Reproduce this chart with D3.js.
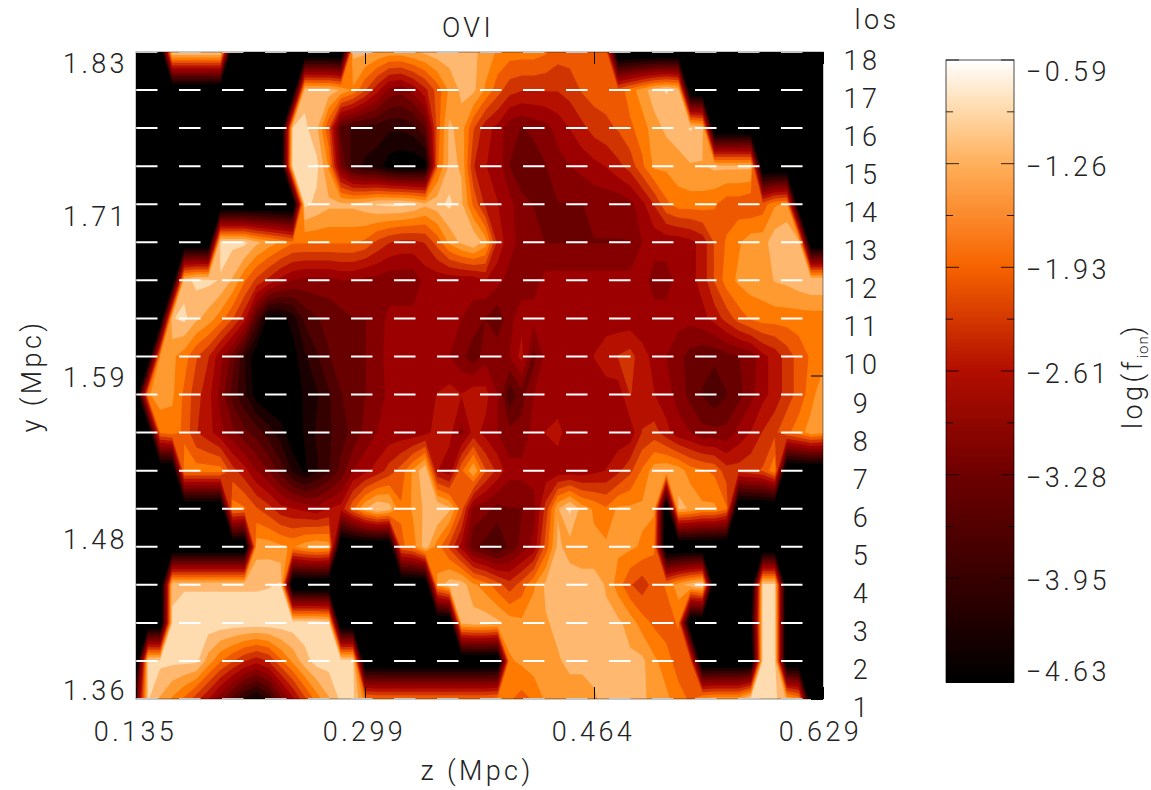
<!DOCTYPE html>
<html>
<head>
<meta charset="utf-8">
<script src="https://cdn.jsdelivr.net/npm/d3@7"></script>
<style>
  html, body { margin: 0; background: #fff; }
  text { font-family: "Roboto", "Liberation Sans", sans-serif; font-weight: 300; fill: #222; font-size: 27px; letter-spacing: 3.4px; }
  .tick text { font-family: "Roboto", "Liberation Sans", sans-serif; font-size: 27px; }
</style>
</head>
<body>
<div id="chart"></div>
<script>
// log(f_ion), one list per line of sight, z runs left to right
const los18 = [-5,-5,-5,-0.85,-0.85,-0.85,-0.85,-0.85,-5,-5,-5,-5,-5,-5,-5,-5,-5,-5,-1.1,-1.1,-1.2,-1.3,-1.3,-1.2,-1.1,-1.0,-1.0,-1.0,-1.1,-1.3,-1.5,-1.6,-1.6,-1.6,-1.7,-1.9,-1.9,-1.9,-1.8,-1.8,-5,-5,-5,-5,-5,-5,-5,-5,-5,-5,-5,-5,-5,-5,-5,-5,-5,-5];
const los17 = [-5,-5,-5,-5,-5,-5,-5,-5,-5,-5,-5,-5,-5,-5,-1.0,-1.0,-1.0,-1.2,-1.5,-2.0,-2.5,-3.0,-3.1,-2.8,-2.4,-1.9,-1.4,-1.1,-1.1,-1.5,-1.9,-2.2,-2.3,-2.3,-2.3,-2.3,-2.2,-2.0,-1.9,-1.9,-1.9,-1.6,-1.3,-1.0,-0.85,-1.0,-5,-5,-5,-5,-5,-5,-5,-5,-5,-5,-5,-5];
const los16 = [-5,-5,-5,-5,-5,-5,-5,-5,-5,-5,-5,-5,-5,-0.85,-0.8,-1.1,-2.0,-3.6,-3.8,-3.9,-3.9,-4.0,-4.0,-3.9,-3.5,-1.9,-1.1,-1.3,-2.0,-2.5,-2.7,-3.1,-3.2,-3.1,-3.0,-2.8,-2.6,-2.4,-2.2,-2.1,-2.0,-1.8,-1.6,-1.3,-1.1,-1.0,-0.85,-1.0,-5,-5,-5,-5,-5,-5,-5,-5,-5,-5];
const los15 = [-5,-5,-5,-5,-5,-5,-5,-5,-5,-5,-5,-5,-4.9,-0.75,-0.75,-0.8,-1.5,-3.2,-3.9,-4.1,-4.2,-4.5,-4.6,-4.6,-4.5,-1.8,-1.1,-1.2,-2.3,-2.6,-2.7,-3.2,-3.4,-3.4,-3.2,-3.0,-2.9,-2.8,-2.7,-2.6,-2.4,-2.2,-1.8,-1.4,-1.4,-1.3,-1.2,-1.2,-1.1,-1.1,-1.1,-1.1,-5,-5,-5,-5,-5,-5];
const los14 = [-5,-5,-5,-5,-5,-5,-5,-5,-5,-5,-5,-5,-5,-5,-0.8,-0.95,-1.1,-1.1,-1.1,-1.0,-0.85,-0.8,-0.8,-0.9,-1.1,-1.0,-0.8,-1.1,-1.8,-2.4,-2.6,-2.8,-3.1,-3.2,-3.2,-3.2,-3.2,-3.2,-3.1,-3.1,-3.1,-3.0,-2.7,-2.3,-1.8,-1.6,-1.6,-1.6,-1.7,-1.9,-1.9,-2.0,-1.9,-1.5,-1.4,-5,-5,-5];
const los13 = [-5,-5,-5,-5,-5,-5,-5,-0.8,-0.8,-0.8,-1.1,-1.3,-1.5,-1.7,-1.7,-1.7,-1.7,-1.7,-1.7,-1.8,-2.1,-2.3,-2.4,-2.4,-2.3,-1.9,-1.4,-1.1,-0.9,-1.3,-2.4,-2.8,-3.0,-3.1,-3.2,-3.2,-3.2,-3.2,-3.2,-3.2,-3.2,-3.2,-2.9,-2.8,-2.8,-2.8,-2.7,-2.5,-2.0,-1.7,-1.5,-1.3,-1.3,-1.0,-0.9,-1.0,-5,-5];
const los12 = [-5,-5,-5,-5,-1.0,-0.8,-0.8,-0.9,-1.2,-1.7,-2.1,-2.4,-2.7,-2.9,-3.0,-3.0,-3.0,-2.9,-2.9,-3.0,-3.0,-3.1,-3.1,-3.1,-2.8,-2.8,-2.8,-2.8,-2.8,-2.6,-2.8,-3.0,-3.1,-3.0,-2.8,-2.8,-2.8,-2.8,-2.8,-2.8,-2.8,-2.8,-2.8,-3.0,-3.0,-2.8,-2.7,-2.5,-2.0,-1.6,-1.4,-1.3,-1.3,-1.15,-1.1,-1.0,-0.9,-0.9];
const los11 = [-5,-5,-5,-0.9,-0.8,-1.1,-1.3,-1.6,-2.0,-2.5,-3.6,-4.5,-4.5,-4.2,-3.7,-3.5,-3.4,-3.3,-3.2,-3.2,-3.1,-2.8,-2.8,-2.8,-2.8,-2.8,-2.8,-2.9,-3.0,-3.2,-3.4,-3.0,-2.7,-2.8,-2.8,-2.8,-2.8,-2.8,-2.8,-2.8,-2.8,-2.8,-2.8,-2.8,-2.8,-2.8,-2.8,-2.7,-2.5,-2.2,-1.9,-1.7,-1.6,-1.6,-1.6,-1.6,-1.6,-1.6];
const los10 = [-5,-5,-1.4,-1.4,-1.6,-2.0,-2.3,-2.8,-3.3,-4.0,-4.6,-4.7,-4.6,-4.5,-4.1,-3.8,-3.5,-3.3,-3.3,-3.2,-3.0,-2.8,-2.8,-2.8,-2.8,-2.8,-2.9,-3.1,-3.4,-3.0,-3.0,-2.9,-2.5,-3.3,-2.8,-2.8,-2.8,-2.8,-2.6,-2.4,-2.3,-2.2,-2.5,-2.7,-2.9,-3.1,-3.3,-3.4,-3.4,-3.3,-3.2,-3.1,-2.7,-2.5,-2.2,-1.9,-1.7,-1.6];
const los9 = [-5,-1.5,-1.3,-1.4,-1.8,-2.2,-2.5,-3.0,-3.6,-4.0,-4.5,-4.7,-4.7,-4.5,-4.3,-4.1,-3.8,-3.5,-3.3,-3.2,-3.1,-2.8,-2.8,-2.8,-2.7,-2.6,-2.5,-2.6,-2.4,-2.5,-2.9,-3.7,-3.3,-2.9,-2.8,-2.8,-2.8,-2.8,-2.8,-2.8,-2.8,-2.3,-2.5,-2.6,-2.8,-3.0,-3.3,-3.5,-3.7,-3.5,-3.3,-3.0,-2.7,-2.5,-2.2,-1.9,-1.6,-1.2];
const los8 = [-5,-5,-1.7,-1.6,-1.8,-2.3,-2.5,-2.8,-3.1,-3.4,-3.6,-3.9,-4.2,-4.6,-4.3,-4.0,-3.8,-3.6,-3.4,-3.1,-2.9,-2.8,-2.8,-2.8,-2.7,-2.5,-2.5,-3.0,-2.5,-2.7,-2.9,-3.1,-3.1,-2.8,-2.6,-2.5,-2.8,-2.8,-2.8,-2.8,-2.8,-2.8,-2.3,-2.2,-2.5,-2.8,-2.9,-3.1,-3.1,-3.1,-2.8,-2.6,-2.3,-2.1,-1.8,-1.6,-1.3,-1.4];
const los7 = [-5,-5,-5,-5,-1.6,-1.6,-1.6,-1.6,-2.2,-2.5,-2.9,-3.2,-3.6,-4.1,-4.4,-4.1,-3.8,-3.4,-2.9,-2.7,-2.5,-2.2,-1.9,-1.4,-0.9,-2.6,-2.8,-1.8,-1.2,-2.0,-2.4,-2.8,-2.8,-2.8,-2.8,-2.8,-2.8,-2.8,-2.7,-2.6,-2.4,-2.1,-1.7,-1.3,-1.2,-1.3,-1.6,-1.7,-1.8,-2.2,-2.2,-2.1,-2.0,-1.5,-5,-5,-5,-5];
const los6 = [-5,-5,-5,-5,-5,-5,-5,-5,-1.6,-1.7,-2.0,-2.2,-2.5,-2.6,-2.7,-2.8,-2.6,-2.5,-1.8,-1.2,-0.85,-1.0,-1.7,-1.4,-1.1,-0.85,-1.1,-1.9,-3.0,-3.1,-3.3,-3.2,-3.2,-3.0,-2.2,-1.2,-0.8,-1.3,-1.5,-1.7,-1.4,-1.4,-1.4,-1.4,-5,-1.1,-1.2,-1.4,-1.4,-1.7,-5,-5,-5,-5,-5,-5,-5,-5];
const los5 = [-5,-5,-5,-5,-5,-5,-5,-5,-5,-5,-1.3,-1.3,-1.4,-1.5,-1.3,-1.2,-1.3,-5,-5,-5,-5,-5,-1.8,-1.6,-1.0,-1.6,-2.1,-2.7,-3.4,-3.6,-3.8,-3.4,-3.1,-2.8,-1.9,-1.1,-1.3,-1.4,-1.4,-1.4,-1.4,-1.4,-1.5,-1.7,-5,-5,-5,-5,-5,-5,-5,-5,-5,-5,-5,-5,-5,-5];
const los4 = [-5,-5,-5,-0.92,-0.92,-0.92,-0.92,-0.92,-0.92,-0.92,-0.92,-0.9,-0.85,-5,-5,-5,-5,-5,-5,-5,-5,-5,-5,-5,-5,-1.4,-1.0,-1.0,-1.4,-1.6,-1.9,-2.2,-1.9,-1.5,-1.1,-1.0,-1.0,-1.0,-1.0,-1.2,-1.6,-2.0,-2.2,-1.9,-1.7,-1.3,-1.0,-0.8,-5,-5,-5,-5,-0.8,-0.8,-5,-5,-5,-5];
const los3 = [-5,-5,-5,-0.85,-0.7,-0.7,-0.7,-0.7,-0.7,-0.7,-0.7,-0.7,-0.7,-0.7,-0.7,-0.7,-0.8,-5,-5,-5,-5,-5,-5,-5,-5,-5,-5,-1.1,-1.0,-1.0,-1.1,-1.3,-1.4,-1.3,-1.2,-1.1,-1.1,-1.1,-1.1,-1.1,-1.1,-1.3,-1.6,-1.8,-1.9,-1.7,-5,-5,-5,-5,-5,-4.5,-0.8,-0.8,-5,-5,-5,-5];
const los2 = [-5,-0.8,-0.8,-0.8,-0.8,-0.8,-1.3,-1.7,-2.0,-2.3,-2.5,-2.3,-1.8,-1.4,-1.0,-0.75,-0.75,-0.75,-0.75,-5,-5,-5,-5,-5,-5,-5,-5,-5,-5,-5,-5,-1.5,-1.4,-1.3,-1.3,-1.2,-1.1,-1.1,-1.1,-1.1,-1.1,-1.1,-1.1,-1.4,-1.6,-1.9,-1.9,-5,-5,-5,-5,-5,-0.8,-0.8,-5,-5,-5,-5];
const los1 = [-3.5,-0.85,-1.2,-1.5,-1.8,-2.2,-2.6,-3.1,-3.6,-4.1,-4.4,-4.0,-3.3,-2.7,-2.1,-1.6,-1.2,-0.8,-0.8,-1.6,-1.7,-1.7,-1.7,-1.7,-1.7,-1.7,-1.7,-1.7,-1.7,-1.7,-1.6,-1.7,-1.85,-1.7,-1.4,-1.3,-1.3,-1.3,-1.2,-1.1,-1.1,-1.1,-1.1,-1.3,-1.4,-1.6,-1.8,-1.4,-1.3,-1.3,-1.3,-0.8,-0.8,-0.8,-1.2,-1.5,-5,-5];

const losLabels = d3.range(18, 0, -1);
const zTickLabels = ["0.135", "0.299", "0.464", "0.629"];
const yTickLabels = ["1.83", "1.71", "1.59", "1.48", "1.36"];
const cbarLabels = ["-0.59", "-1.26", "-1.93", "-2.61", "-3.28", "-3.95", "-4.63"];

// contour levels and the flat colour of each band
const levels = [-4.34,-4.05,-3.76,-3.48,-3.19,-2.90,-2.61,-2.32,-2.03,-1.74,-1.46,-1.17,-0.88,-0.62];
const bandColors = ["#1a0000","#340000","#4f0000","#690000","#840000","#9c0000","#b61000","#d03400","#ee5800","#ff7a00","#ff9a30","#ffb870","#ffdcb0","#fff6ea"];

const cbarValues = [-4.63,-3.95,-3.28,-2.61,-1.93,-1.26,-0.9,-0.59];
const cbarColors = ["#000000","#380000","#6e0000","#b20e00","#f76400","#ffb05c","#ffdcb0","#ffffff"];

const grid = [los18,los17,los16,los15,los14,los13,los12,los11,los10,los9,los8,los7,los6,los5,los4,los3,los2,los1];
const nCols = los18.length, nRows = grid.length;
grid.forEach((row, i) => { if (row.length !== nCols) throw new Error("row los" + (18 - i) + " has " + row.length); });

const plot = {left: 136, right: 823, top: 52, bottom: 699};
const bar = {left: 946, right: 1014, top: 60, bottom: 682};

const svg = d3.select("#chart").append("svg")
    .attr("width", 1151)
    .attr("height", 790)
    .style("display", "block");

const colX = d3.scaleLinear().domain([0, nCols - 1]).range([plot.left, plot.right]).clamp(true);
const rowY = d3.scaleLinear().domain([0, nRows - 1]).range([plot.top, plot.bottom]).clamp(true);
const losY = d3.scaleLinear().domain([1, 18]).range([plot.bottom, plot.top]);

// contours sit half a cell off the grid points
const toPlot = d3.geoTransform({
    point: function (x, y) { this.stream.point(colX(x - 0.5), rowY(y - 0.5)); }
});
const path = d3.geoPath(toPlot);

const contours = d3.contours().size([nCols, nRows]).thresholds(levels).smooth(true)(grid.flat());

svg.append("rect")
    .attr("x", plot.left).attr("y", plot.top)
    .attr("width", plot.right - plot.left).attr("height", plot.bottom - plot.top)
    .attr("fill", "#000");

svg.append("g").selectAll("path")
    .data(contours)
    .enter().append("path")
    .attr("d", path)
    .attr("fill", (d, i) => bandColors[i]);

// axes: ticks sit at equal spacing, the labels are rounded values
const zAxisScale = d3.scalePoint().domain(zTickLabels).range([plot.left, plot.right]);
const yAxisScale = d3.scalePoint().domain(yTickLabels).range([plot.top, plot.bottom]);

function cleanAxis(g) {
    g.select(".domain").remove();
    g.selectAll("line").attr("stroke", "#000");
}

svg.append("g")
    .attr("transform", "translate(0," + plot.bottom + ")")
    .call(d3.axisBottom(zAxisScale).tickSize(-12).tickPadding(28))
    .call(cleanAxis)
    .selectAll("text")
    .attr("dy", "0.5em")
    .attr("dx", (d, i) => i === 3 ? -3 : -1);

svg.append("g")
    .attr("transform", "translate(0," + plot.top + ")")
    .call(d3.axisTop(zAxisScale).tickSize(-12).tickFormat(""))
    .call(cleanAxis);

svg.append("g")
    .attr("transform", "translate(" + plot.left + ",0)")
    .call(d3.axisLeft(yAxisScale).tickSize(-12).tickPadding(8))
    .call(cleanAxis)
    .selectAll("text")
    .attr("dy", (d, i) => i === 0 ? "0.75em" : (i === 4 ? "0" : "0.42em"));

svg.append("g")
    .attr("transform", "translate(" + plot.right + ",0)")
    .call(d3.axisRight(yAxisScale).tickSize(-12).tickFormat(""))
    .call(cleanAxis);

// line of sight markers
svg.append("g").selectAll("line")
    .data(losLabels)
    .enter().append("line")
    .attr("x1", plot.left)
    .attr("x2", plot.right)
    .attr("y1", d => losY(d))
    .attr("y2", d => losY(d))
    .attr("stroke", "#fff")
    .attr("stroke-width", 2)
    .attr("stroke-dasharray", "21.5,21.5");

svg.append("rect")
    .attr("x", plot.left).attr("y", plot.top)
    .attr("width", plot.right - plot.left).attr("height", plot.bottom - plot.top)
    .attr("fill", "none")
    .attr("stroke", "#000")
    .attr("stroke-opacity", 0.45);

svg.append("g").selectAll("text")
    .data(losLabels)
    .enter().append("text")
    .attr("x", 862)
    .attr("y", d => losY(d) + 18)
    .attr("text-anchor", "middle")
    .text(d => d);

svg.append("text").attr("x", 468).attr("y", 37).attr("text-anchor", "middle").text("OVI");
svg.append("text").attr("x", 877).attr("y", 29).attr("text-anchor", "middle").text("los");
svg.append("text").attr("x", 477).attr("y", 780).attr("text-anchor", "middle").text("z (Mpc)");
svg.append("text")
    .attr("transform", "translate(41,376) rotate(-90)")
    .attr("text-anchor", "middle")
    .text("y (Mpc)");

// colour bar
const barY = d3.scaleLinear().domain([-4.63, -0.59]).range([bar.bottom, bar.top]);
const barColor = d3.scaleLinear().domain(cbarValues).range(cbarColors);
const barSteps = d3.range(0, 256).map(i => -4.63 + i * 4.04 / 255);

svg.append("g").selectAll("rect")
    .data(barSteps)
    .enter().append("rect")
    .attr("x", bar.left)
    .attr("width", bar.right - bar.left)
    .attr("y", d => Math.max(bar.top, barY(d) - 2.5))
    .attr("height", 3.5)
    .attr("fill", d => barColor(d));

svg.append("rect")
    .attr("x", bar.left).attr("y", bar.top)
    .attr("width", bar.right - bar.left).attr("height", bar.bottom - bar.top)
    .attr("fill", "none")
    .attr("stroke", "#000")
    .attr("stroke-opacity", 0.7);

const barScale = d3.scalePoint().domain(cbarLabels).range([bar.top, bar.bottom]);
const barMinor = d3.range(0, 6).map(i => barScale(cbarLabels[i]) + (bar.bottom - bar.top) / 12);

["left", "right"].forEach(side => {
    const dir = side === "left" ? 1 : -1;
    const x0 = side === "left" ? bar.left : bar.right;
    svg.append("g").selectAll("line")
        .data(cbarLabels)
        .enter().append("line")
        .attr("x1", x0).attr("x2", x0 + dir * 13)
        .attr("y1", d => barScale(d)).attr("y2", d => barScale(d))
        .attr("stroke", "#000").attr("stroke-opacity", 0.8);
    svg.append("g").selectAll("line")
        .data(barMinor)
        .enter().append("line")
        .attr("x1", x0).attr("x2", x0 + dir * 7)
        .attr("y1", d => d).attr("y2", d => d)
        .attr("stroke", "#000").attr("stroke-opacity", 0.8);
});

svg.append("g").selectAll("text")
    .data(cbarLabels)
    .enter().append("text")
    .attr("x", 1026)
    .attr("y", (d, i) => barScale(d) + (i === 0 ? 21 : (i === 6 ? -1 : 12)))
    .text(d => d.replace("-", "\u2212"));

const barTitle = svg.append("text")
    .attr("transform", "translate(1142,376) rotate(-90)")
    .attr("text-anchor", "middle")
    .text("log(f");
barTitle.append("tspan").attr("dy", 6).style("font-size", "15px").style("letter-spacing", "1px").text("ion");
barTitle.append("tspan").attr("dy", -6).text(")");
</script>
</body>
</html>
